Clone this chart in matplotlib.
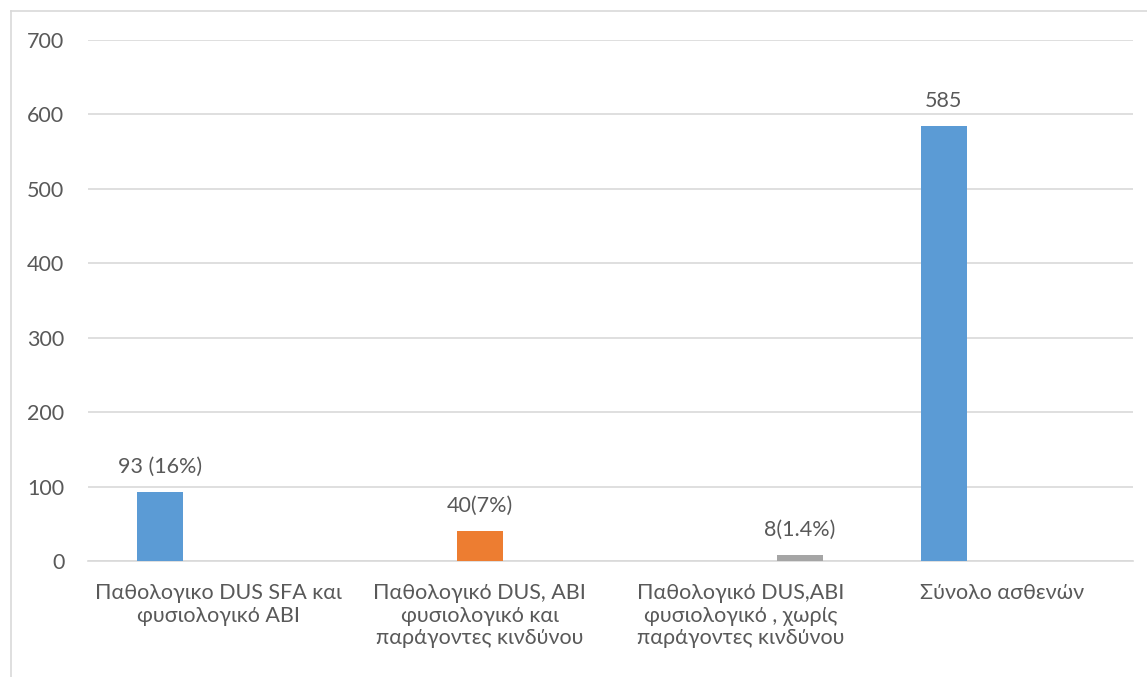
import matplotlib.pyplot as plt
import numpy as np

# 폰트 설정
plt.rcParams['font.family'] = ['Lato', 'Open Sans', 'DejaVu Sans']

# 데이터
categories = ['Παθολογικο DUS SFA και\nφυσιολογικό ABI',
              'Παθολογικό DUS, ABI\nφυσιολογικό και\nπαράγοντες κινδύνου',
              'Παθολογικό DUS,ABI\nφυσιολογικό , χωρίς\nπαράγοντες κινδύνου',
              'Σύνολο ασθενών']
series_blue = [93, 0, 0, 585]
series_orange = [0, 40, 0, 0]
series_gray = [0, 0, 8, 0]
labels_blue = ['93 (16%)', None, None, '585']
labels_orange = [None, '40(7%)', None, None]
labels_gray = [None, None, '8(1.4%)', None]

colors = ['#5B9BD5', '#ED7D31', '#A5A5A5']
text_color = '#595959'
fs = 15.5

fig = plt.figure(figsize=(11.47, 6.77), dpi=100)
ax = fig.add_axes([0.0767, 0.1713, 0.9111, 0.7697])

x = np.arange(len(categories))
w = 0.176
off = 0.224
all_series = [(series_blue, labels_blue, -off), (series_orange, labels_orange, 0), (series_gray, labels_gray, off)]
for (vals, labs, o), c in zip(all_series, colors):
    bars = ax.bar(x + o, vals, width=w, color=c, zorder=3)
    for b, lab in zip(bars, labs):
        if lab is None:
            continue
        ax.annotate(lab, (b.get_x() + b.get_width() / 2, b.get_height()),
                    xytext=(0, 18), textcoords='offset points', ha='center', va='center',
                    fontsize=fs, color=text_color)

ax.set_xlim(-0.5, 3.5)
ax.set_ylim(0, 700)
ax.set_yticks(range(0, 701, 100))
ax.set_xticks(x)
ax.set_xticklabels(categories, fontsize=fs, color=text_color, linespacing=1.15)
ax.tick_params(axis='y', labelsize=fs, labelcolor=text_color, length=0, pad=17)
ax.tick_params(axis='x', length=0, pad=16)
ax.grid(axis='y', color='#D9D9D9', linewidth=1.2, zorder=0)
for s in ['top', 'right', 'left']:
    ax.spines[s].set_visible(False)
ax.spines['bottom'].set_color('#D9D9D9')
ax.spines['bottom'].set_linewidth(1.2)

# 차트 테두리 (왼쪽, 위쪽만 보임)
bx = 10.5 / 1147
by = 1 - 10.5 / 677
fig.add_artist(plt.Line2D([bx, bx], [0, by], transform=fig.transFigure, color='#D9D9D9', linewidth=1.2))
fig.add_artist(plt.Line2D([bx, 1], [by, by], transform=fig.transFigure, color='#D9D9D9', linewidth=1.2))

fig.savefig('out.png', dpi=100)
